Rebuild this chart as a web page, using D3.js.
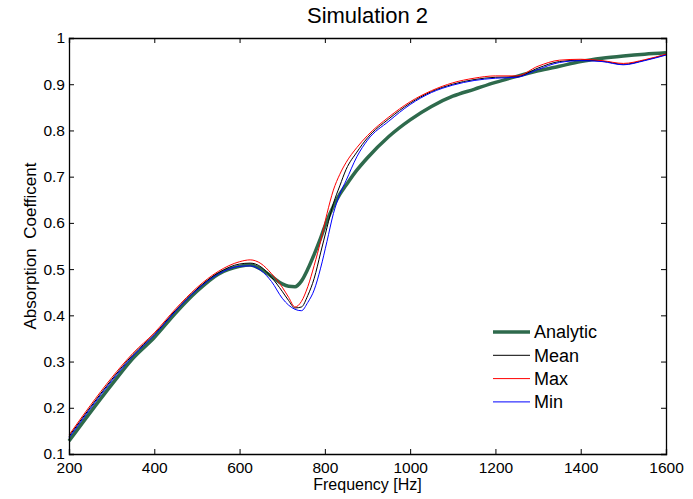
<!DOCTYPE html>
<html lang="en">
<head>
<meta charset="UTF-8">
<title>Simulation 2</title>
<script src="https://d3js.org/d3.v7.min.js"></script>
<style>
  body { margin: 0; background: #fff; }
  svg text { font-family: Arial, "Liberation Sans", sans-serif; fill: #000; }
</style>
</head>
<body>
<svg id="chart" width="693" height="499"></svg>
<script>
// frequency grid [Hz]
const freq = [200, 250, 300, 350, 400, 450, 500, 550, 600, 625, 650, 675, 700, 715, 730, 745, 760, 775, 790, 805, 820, 835, 850, 875, 900, 950, 1000, 1050, 1100, 1150, 1200, 1250, 1300, 1350, 1400, 1450, 1500, 1550, 1600];

const analytic = [0.128, 0.19, 0.25, 0.307, 0.352, 0.405, 0.452, 0.489, 0.506, 0.509, 0.500, 0.484, 0.468, 0.463, 0.462, 0.474, 0.500, 0.532, 0.567, 0.605, 0.636, 0.662, 0.682, 0.714, 0.741, 0.787, 0.823, 0.852, 0.874, 0.889, 0.904, 0.917, 0.929, 0.939, 0.949, 0.956, 0.961, 0.965, 0.968];
const meanV = [0.138, 0.201, 0.261, 0.315, 0.359, 0.411, 0.457, 0.492, 0.511, 0.513, 0.505, 0.482, 0.452, 0.432, 0.416, 0.418, 0.443, 0.48, 0.535, 0.59, 0.642, 0.68, 0.716, 0.753, 0.784, 0.825, 0.859, 0.884, 0.9, 0.91, 0.915, 0.916, 0.935, 0.949, 0.952, 0.95, 0.943, 0.952, 0.964];
const maxV = [0.141, 0.205, 0.265, 0.318, 0.362, 0.414, 0.46, 0.495, 0.516, 0.52, 0.512, 0.49, 0.461, 0.439, 0.418, 0.43, 0.462, 0.508, 0.56, 0.62, 0.671, 0.705, 0.731, 0.763, 0.789, 0.829, 0.862, 0.886, 0.903, 0.913, 0.918, 0.918, 0.939, 0.952, 0.954, 0.951, 0.945, 0.953, 0.965];
const minV = [0.135, 0.198, 0.258, 0.312, 0.357, 0.409, 0.455, 0.489, 0.506, 0.507, 0.497, 0.473, 0.437, 0.422, 0.413, 0.41, 0.428, 0.455, 0.502, 0.56, 0.62, 0.662, 0.692, 0.743, 0.779, 0.82, 0.856, 0.882, 0.898, 0.908, 0.913, 0.915, 0.932, 0.947, 0.951, 0.949, 0.942, 0.951, 0.963];

const xTicks = [200, 400, 600, 800, 1000, 1200, 1400, 1600];
const yTicks = [0.1, 0.2, 0.3, 0.4, 0.5, 0.6, 0.7, 0.8, 0.9, 1];

const series = [
  { name: "Analytic", values: analytic, color: "#2e6a4c", width: 3.5 },
  { name: "Mean", values: meanV, color: "#000000", width: 1 },
  { name: "Max", values: maxV, color: "#ff0000", width: 1 },
  { name: "Min", values: minV, color: "#0000ff", width: 1 }
];

const margin = { left: 69, right: 27, top: 38, bottom: 45 };
const W = 693, H = 499;

const svg = d3.select("#chart");

const x = d3.scaleLinear().domain([200, 1600]).range([margin.left, W - margin.right]);
const y = d3.scaleLinear().domain([0.1, 1]).range([H - margin.bottom, margin.top]);

// lines
const line = d3.line().x((d, i) => x(freq[i])).y(d => y(d)).curve(d3.curveMonotoneX);

svg.append("g").selectAll("path")
  .data(series)
  .enter().append("path")
  .attr("fill", "none")
  .attr("stroke", d => d.color)
  .attr("stroke-width", d => d.width)
  .attr("d", d => line(d.values));

// axes (ticks inside, box on all sides)
const tickLen = 5;
svg.append("g")
  .attr("transform", `translate(0,${y(0.1)})`)
  .call(d3.axisBottom(x).tickValues(xTicks).tickSize(-tickLen).tickPadding(7).tickFormat(d3.format("d")))
  .call(g => g.selectAll("text").attr("font-size", 15.5).attr("dy", "0.75em"));
svg.append("g")
  .attr("transform", `translate(0,${y(1)})`)
  .call(d3.axisTop(x).tickValues(xTicks).tickSize(-tickLen).tickFormat(""));
svg.append("g")
  .attr("transform", `translate(${x(200)},0)`)
  .call(d3.axisLeft(y).tickValues(yTicks).tickSize(-tickLen).tickPadding(4).tickFormat(d => d === 1 ? "1" : d3.format(".1f")(d)))
  .call(g => g.selectAll("text").attr("font-size", 15.5));
svg.append("g")
  .attr("transform", `translate(${x(1600)},0)`)
  .call(d3.axisRight(y).tickValues(yTicks).tickSize(-tickLen).tickFormat(""));

svg.selectAll(".domain").attr("stroke", "#000").attr("stroke-width", 1.3);
svg.selectAll(".tick line").attr("stroke", "#000");
svg.selectAll(".tick text").attr("font-family", "Arial, 'Liberation Sans', sans-serif").attr("fill", "#000");

// titles
svg.append("text")
  .attr("x", (x(200) + x(1600)) / 2).attr("y", 23)
  .attr("text-anchor", "middle").attr("font-size", 22)
  .text("Simulation 2");
svg.append("text")
  .attr("x", (x(200) + x(1600)) / 2).attr("y", 490)
  .attr("text-anchor", "middle").attr("font-size", 16)
  .text("Frequency [Hz]");
svg.append("text")
  .attr("transform", `translate(36,${(y(0.1) + y(1)) / 2}) rotate(-90)`)
  .attr("text-anchor", "middle").attr("font-size", 17)
  .style("white-space", "pre")
  .text("Absorption  Coefficent");

// legend
const legend = svg.append("g").attr("transform", "translate(493,332)");
const rows = legend.selectAll("g").data(series).enter().append("g")
  .attr("transform", (d, i) => `translate(0,${i * 23.3})`);
rows.append("line")
  .attr("x1", 0).attr("x2", 37)
  .attr("stroke", d => d.color)
  .attr("stroke-width", d => d.width);
rows.append("text")
  .attr("x", 41).attr("dy", "0.35em")
  .attr("font-size", 18)
  .text(d => d.name);
</script>
</body>
</html>
